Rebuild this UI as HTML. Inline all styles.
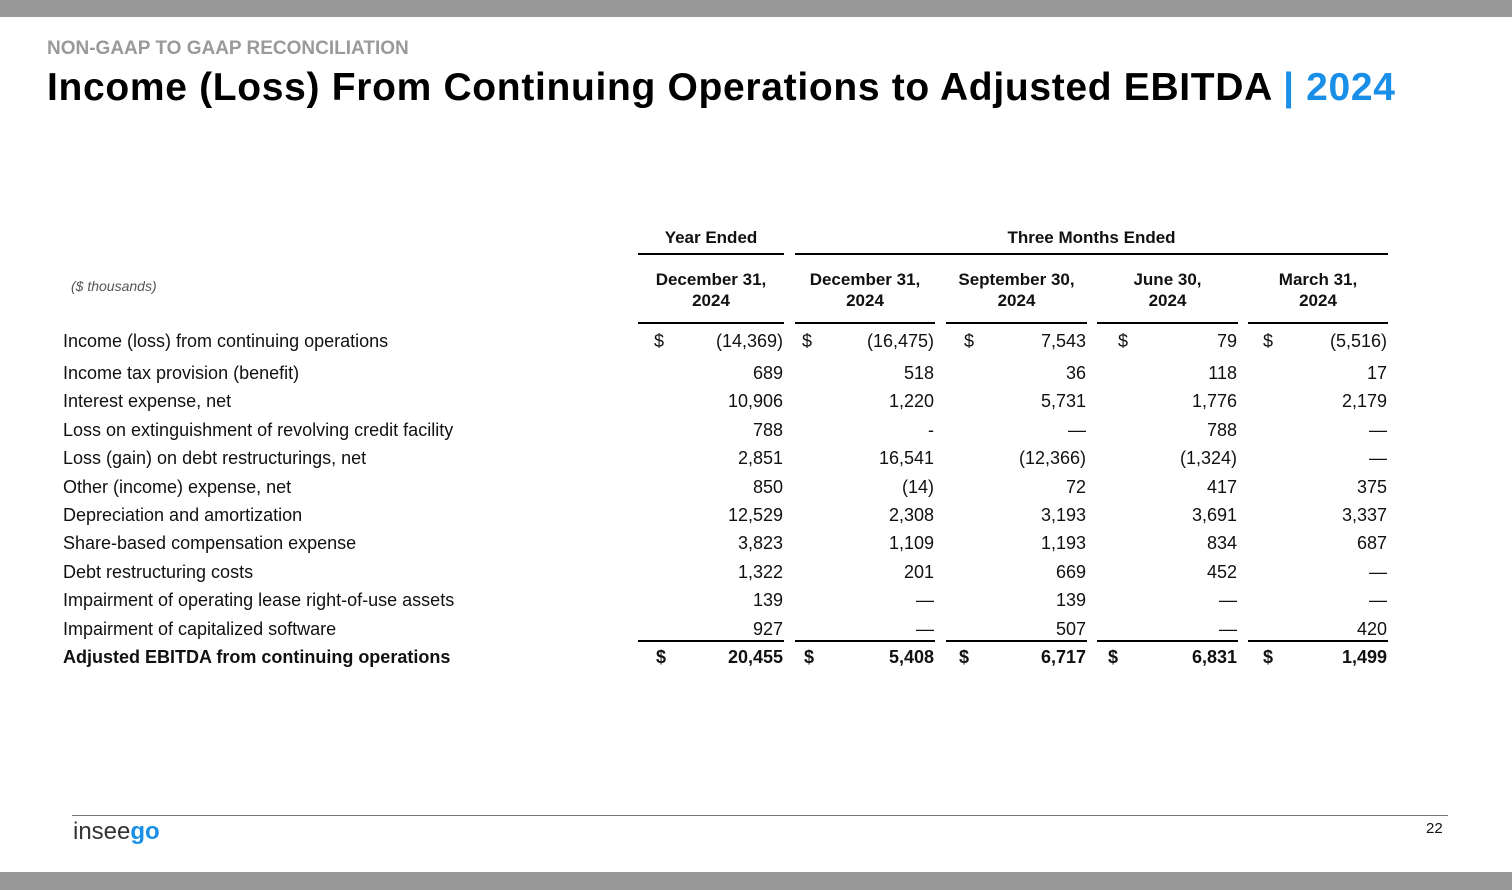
<!DOCTYPE html>
<html><head><meta charset="utf-8"><style>
body{margin:0;width:1512px;height:890px;position:relative;background:#fff;font-family:"Liberation Sans",sans-serif;overflow:hidden}
.a{position:absolute;white-space:nowrap}
.bar{position:absolute;left:0;width:1512px;background:#999}
.l{position:absolute;height:2px;background:#000}
.t{font-size:18px;color:#111;line-height:20px}
.r{text-align:right}
.h{font-weight:bold;font-size:17px;text-align:center;line-height:21px;color:#111}
</style></head><body>
<div class="bar" style="top:0;height:17px"></div>
<div class="bar" style="top:872px;height:18px"></div>
<div class="a" style="left:47px;top:38px;font-size:19px;font-weight:bold;color:#9a9a9a">NON-GAAP TO GAAP RECONCILIATION</div>
<div class="a" style="left:47px;top:66px;font-size:39px;font-weight:bold;color:#000;letter-spacing:0.68px">Income (Loss) From Continuing Operations to Adjusted EBITDA <span style="color:#1a8fe8">| 2024</span></div>
<div class="a" style="left:71px;top:278px;font-size:14px;font-style:italic;color:#555">($ thousands)</div>
<div class="a h" style="left:638px;width:146px;top:227px">Year Ended</div>
<div class="a h" style="left:795px;width:593px;top:227px">Three Months Ended</div>
<div class="l" style="left:638px;width:146px;top:253px"></div>
<div class="l" style="left:795px;width:593px;top:253px"></div>
<div id="c"></div>
<div class="l" style="left:72px;width:1376px;top:815px;height:1px;background:#777"></div>
<div class="a" style="left:73px;top:818px;font-size:24px;color:#333">insee<span style="color:#1a8fe8;font-weight:bold">go</span></div>
<div class="a" style="left:1426px;top:820px;font-size:15px;color:#111">22</div>
<script>
var L=[638,795,946,1097,1248],R=[784,935,1087,1238,1388];
var H=[["December 31,","2024"],["December 31,","2024"],["September 30,","2024"],["June 30,","2024"],["March 31,","2024"]];
var s="";
for(var i=0;i<5;i++){s+='<div class="a h" style="left:'+L[i]+'px;width:'+(R[i]-L[i])+'px;top:269px">'+H[i][0]+'<br>'+H[i][1]+'</div>';
s+='<div class="l" style="left:'+L[i]+'px;width:'+(R[i]-L[i])+'px;top:322px"></div>';
s+='<div class="l" style="left:'+L[i]+'px;width:'+(R[i]-L[i])+'px;top:640px"></div>';}
var rows=[["Income (loss) from continuing operations",["(14,369)","(16,475)","7,543","79","(5,516)"],341],
["Income tax provision (benefit)",["689","518","36","118","17"],373],
["Interest expense, net",["10,906","1,220","5,731","1,776","2,179"],401],
["Loss on extinguishment of revolving credit facility",["788","-","—","788","—"],430],
["Loss (gain) on debt restructurings, net",["2,851","16,541","(12,366)","(1,324)","—"],458],
["Other (income) expense, net",["850","(14)","72","417","375"],487],
["Depreciation and amortization",["12,529","2,308","3,193","3,691","3,337"],515],
["Share-based compensation expense",["3,823","1,109","1,193","834","687"],543],
["Debt restructuring costs",["1,322","201","669","452","—"],572],
["Impairment of operating lease right-of-use assets",["139","—","139","—","—"],600],
["Impairment of capitalized software",["927","—","507","—","420"],629],
["Adjusted EBITDA from continuing operations",["20,455","5,408","6,717","6,831","1,499"],657]];
var D1=[654,802,964,1118,1263],D2=[656,804,959,1108,1263];
rows.forEach(function(r,k){var b=k==11?"font-weight:bold;":"";var top=r[2]-10;
s+='<div class="a t" style="left:63px;top:'+top+'px;'+b+'">'+r[0]+'</div>';
for(var i=0;i<5;i++){var v=r[1][i];var paren=v.slice(-1)==")";
s+='<div class="a t r" style="left:'+(R[i]-150)+'px;width:'+(paren?149:149)+'px;top:'+top+'px;'+b+'">'+v+'</div>';
if(k==0||k==11)s+='<div class="a t" style="left:'+(k==0?D1[i]:D2[i])+'px;top:'+top+'px;'+b+'">$</div>';}});
document.getElementById("c").innerHTML=s;
</script>
</body></html>
